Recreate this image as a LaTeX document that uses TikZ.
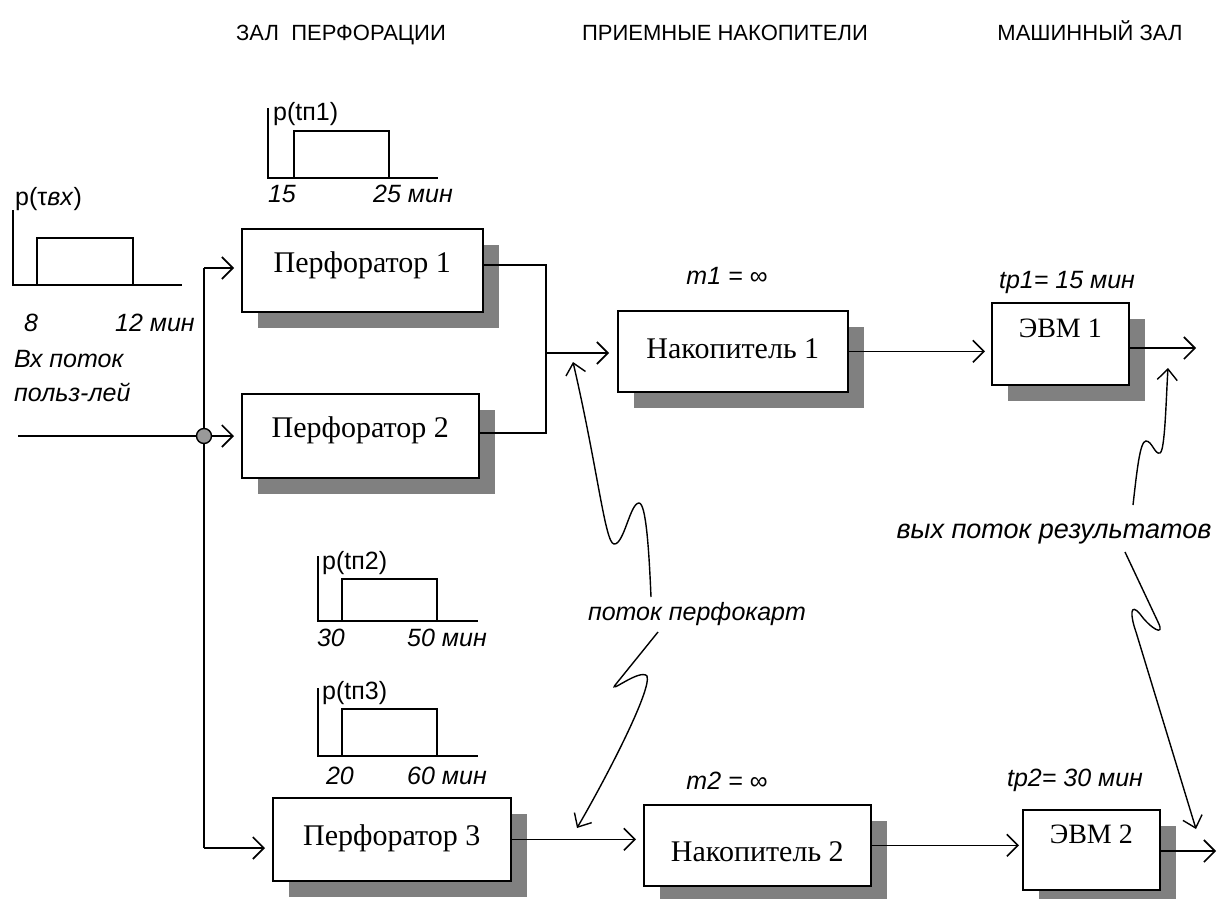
\documentclass[tikz,border=0pt]{standalone}
\usepackage{fontspec}
\setmainfont{Liberation Serif}
\newfontfamily\arialf{Liberation Sans}
\usetikzlibrary{arrows.meta,shadows}
\begin{document}
\begin{tikzpicture}[x=1pt,y=-1pt,
  box/.style={draw, line width=1.6pt, fill=white, inner sep=0pt, anchor=north west,
    font=\fontsize{30}{32}\selectfont,
    drop shadow={shadow xshift=16pt, shadow yshift=-16pt, opacity=1, fill=black!50}},
  ebox/.style={box, font=\fontsize{28}{30}\selectfont},
  ln/.style={line width=1.6pt},
  arr/.style={ln, -{Straight Barb[length=11pt,width=22pt,line width=1.6pt]}},
  hdr/.style={font=\arialf\fontsize{22}{24}\selectfont, inner sep=0pt, anchor=base},
  lab/.style={font=\arialf\itshape\fontsize{25}{27}\selectfont, inner sep=0pt, anchor=base},
  plab/.style={font=\arialf\fontsize{25}{27}\selectfont, inner sep=0pt, anchor=base west},
  axis/.style={line width=1.5pt},
  sq/.style={line width=1.4pt, -{Straight Barb[length=11pt,width=20pt,line width=1.4pt]}}
]
\useasboundingbox (0,0) rectangle (1219,899);

% headers
\node[hdr] (h1) at (341,41) {ЗАЛ\ \ ПЕРФОРАЦИИ};
\node[hdr] (h2) at (725,41) {ПРИЕМНЫЕ НАКОПИТЕЛИ};
\node[hdr] (h3) at (1090,41) {МАШИННЫЙ ЗАЛ};

% boxes
\node[box, minimum width=241pt, text height=44pt, text depth=39pt] (p1) at (241,228) {Перфоратор 1};
\node[box, minimum width=237pt, text height=44pt, text depth=40pt] (p2) at (241,393) {Перфоратор 2};
\node[box, minimum width=238pt, text height=48pt, text depth=35pt] (p3) at (272,797) {Перфоратор 3};
\node[box, minimum width=230pt, text height=48pt, text depth=33pt] (n1) at (617,310) {Накопитель 1};
\node[box, minimum width=227pt, text height=57pt, text depth=24pt] (n2) at (643,804) {Накопитель 2};
\node[ebox, minimum width=137pt, text height=35pt, text depth=47pt] (e1) at (991,302) {ЭВМ 1};
\node[ebox, minimum width=137pt, text height=34pt, text depth=46pt] (e2) at (1022,809) {ЭВМ 2};

% input distribution
\draw[axis] (13,210) -- (13,285) -- (182,285);
\draw[axis] (37,285) -- (37,238) -- (133,238) -- (133,285);
\node[plab] (ptvx) at (15,205) {p(τ\textit{вх})};
\node[lab] (l8) at (31,331) {8};
\node[lab] (l12) at (155,331) {12 мин};
\node[lab, anchor=base west] (vx1) at (14,367) {Вх поток};
\node[lab, anchor=base west] (vx2) at (14,401) {польз-лей};

% p(tп1)
\draw[axis] (268,108) -- (268,178) -- (438,178);
\draw[axis] (294,178) -- (294,131) -- (389,131) -- (389,178);
\node[plab] (pt1) at (273,121) {p(tп1)};
\node[lab] (l15) at (282,202) {15};
\node[lab] (l25) at (413,202) {25 мин};

% p(tп2)
\draw[axis] (318,556) -- (318,621) -- (478,621);
\draw[axis] (342,621) -- (342,579) -- (437,579) -- (437,621);
\node[plab] (pt2) at (322,569) {p(tп2)};
\node[lab] (l30) at (331,646) {30};
\node[lab] (l50) at (447,646) {50 мин};

% p(tп3)
\draw[axis] (318,688) -- (318,756) -- (478,756);
\draw[axis] (342,756) -- (342,709) -- (437,709) -- (437,756);
\node[plab] (pt3) at (322,699) {p(tп3)};
\node[lab] (l20) at (340,784) {20};
\node[lab] (l60) at (447,784) {60 мин};

% other labels
\node[lab] (m1) at (727,284) {m1 = ∞};
\node[lab] (tp1) at (1067,288) {tp1= 15 мин};
\node[lab] (m2) at (727,789) {m2 = ∞};
\node[lab] (tp2) at (1075,786) {tp2= 30 мин};
\node[lab] (pp) at (697,620) {поток перфокарт};
\node[lab, font=\arialf\itshape\fontsize{27}{29}\selectfont] (vr) at (1054,538) {вых поток результатов};

% input flow and splitting
\coordinate (in) at (18,436);
\node[circle, draw, line width=1.4pt, fill=black!40, minimum size=15pt, inner sep=0pt] (j) at (204,436) {};
\coordinate (jt) at (204,268);
\coordinate (jb) at (204,848);
\draw[ln] (in) -- (j.west);
\draw[ln] (jt) -- (j.north);
\draw[ln] (j.south) -- (jb);
\draw[arr, shorten >=7pt] (jt) -- (p1.west |- jt);
\draw[arr, shorten >=7pt] (j.east) -- (p2.west |- j);
\draw[arr, shorten >=7pt] (jb) -- (p3.west |- jb);

% merge to накопитель 1
\coordinate (mt) at (546,265);
\coordinate (mb) at (546,433);
\coordinate (mm) at (546,353);
\draw[ln] (p1.east |- mt) -- (mt) -- (mb) -- (p2.east |- mb);
\draw[arr, shorten >=8pt] (mm) -- (n1.west |- mm);
\draw[arr, shorten >=6pt] (n1.east) -- (e1.west |- n1.east);
\coordinate (o1) at (1196,348);
\draw[arr] (e1.east |- o1) -- (o1);

% lower chain
\draw[arr, shorten >=7pt] (p3.east) -- (n2.west |- p3.east);
\draw[arr, shorten >=3pt] (n2.east) -- (e2.west |- n2.east);
\coordinate (o2) at (1216,851);
\draw[arr] (e2.east |- o2) -- (o2);

% squiggly pointers
\coordinate (s1) at (651,597);
\coordinate (t1) at (573,362);
\draw[sq] (s1) .. controls (649,550) and (646,503) .. (639,503)
  .. controls (630,503) and (624,545) .. (614,544)
  .. controls (605,543) and (598,470) .. (t1);
\coordinate (s2) at (658,632);
\coordinate (t2) at (577,828);
\draw[sq] (s2) -- (616,684) .. controls (606,696) and (640,668) .. (647,676)
  .. controls (652,690) and (605,780) .. (t2);
\coordinate (s3) at (1133,505);
\coordinate (t3) at (1168,368);
\draw[sq] (s3) .. controls (1137,470) and (1140,441) .. (1146,441)
  .. controls (1152,441) and (1155,455) .. (1160,453)
  .. controls (1165,451) and (1166,400) .. (t3);
\coordinate (s4) at (1125,552);
\coordinate (t4) at (1196,829);
\draw[sq] (s4) -- (1158,622) .. controls (1166,638) and (1150,628) .. (1140,614)
  .. controls (1130,602) and (1130,615) .. (1136,632) -- (t4);
\end{tikzpicture}
\end{document}
